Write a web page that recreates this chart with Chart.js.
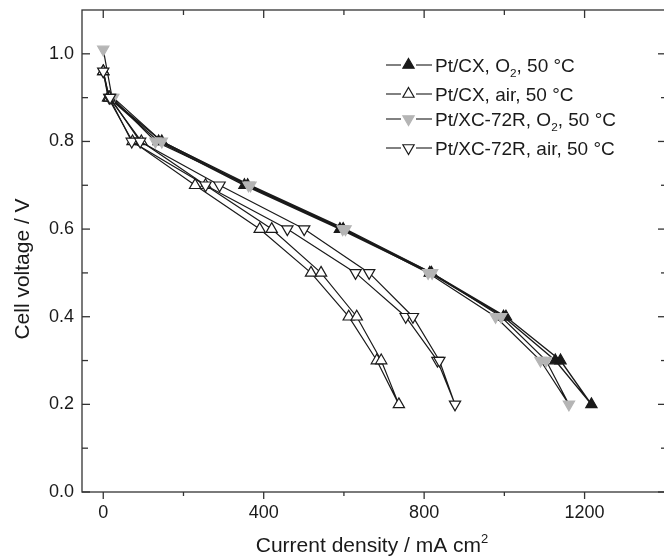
<!DOCTYPE html>
<html>
<head>
<meta charset="utf-8">
<script src="https://cdn.jsdelivr.net/npm/chart.js@4.4.0/dist/chart.umd.min.js"></script>
<style>
    html, body { margin: 0; padding: 0; background: #fff; }
    #chart { display: block; }
</style>
</head>
<body>
<canvas id="chart" width="664" height="556"></canvas>
<script>
// polarisation curves: sweep down to 0.2 V, then back up
const voltageSweep = [0.96, 0.9, 0.8, 0.7, 0.6, 0.5, 0.4, 0.3, 0.2, 0.3, 0.4, 0.5, 0.6, 0.7, 0.8, 0.9];
const voltageXcO2 = [1.01, 0.9, 0.8, 0.7, 0.6, 0.5, 0.4, 0.3, 0.2, 0.3, 0.4, 0.5, 0.6, 0.7, 0.8, 0.9];

const currentCxO2 = [0, 14, 138, 352, 590, 814, 998, 1127, 1217, 1140, 1004, 818, 598, 360, 146, 16];
const currentCxAir = [0, 12, 73, 229, 390, 518, 612, 682, 737, 693, 632, 543, 420, 255, 95, 15];
const currentXcO2 = [0, 22, 130, 362, 597, 810, 978, 1090, 1161, 1104, 992, 820, 604, 367, 146, 25];
const currentXcAir = [0, 15, 71, 255, 459, 629, 754, 833, 877, 838, 772, 663, 501, 290, 92, 17];

const seriesNames = [
    'Pt/CX, O_2, 50 °C',
    'Pt/CX, air, 50 °C',
    'Pt/XC-72R, O_2, 50 °C',
    'Pt/XC-72R, air, 50 °C'
];

const xTicksMajor = [0, 400, 800, 1200];
const xTicksMinor = [200, 600, 1000];
const yTicksMajor = [0, 0.2, 0.4, 0.6, 0.8, 1.0];
const yTicksMinor = [0.1, 0.3, 0.5, 0.7, 0.9];

const FONT = "'Liberation Sans', Arial, Helvetica, sans-serif";
const INK = '#1a1a1a';
const GREY = '#b5b5b5';

function toPoints(xs, ys){
    return xs.map((x, i) => ({ x: x, y: ys[i] }));
}

function series(name, xs, ys, style){
    return Object.assign({
        label: name,
        data: toPoints(xs, ys),
        showLine: true,
        tension: 0,
        borderColor: INK,
        borderWidth: 1.2,
        pointStyle: 'triangle',
        pointRadius: 6.5,
        pointHoverRadius: 6.5,
        pointBorderWidth: 1.2
    }, style);
}

const datasets = [
    series(seriesNames[0], currentCxO2, voltageSweep, {
        borderWidth: 1.4, pointRotation: 0,
        pointBackgroundColor: INK, pointBorderColor: INK, order: 3
    }),
    series(seriesNames[1], currentCxAir, voltageSweep, {
        pointRotation: 0,
        pointBackgroundColor: '#fff', pointBorderColor: INK, order: 1
    }),
    series(seriesNames[2], currentXcO2, voltageXcO2, {
        pointRotation: 180,
        pointBackgroundColor: GREY, pointBorderColor: GREY, order: 2
    }),
    series(seriesNames[3], currentXcAir, voltageSweep, {
        pointRotation: 180,
        pointBackgroundColor: '#fff', pointBorderColor: INK, order: 0
    })
];

// text with _x subscripts and ^x superscripts
function richParts(text){
    return text.split(/([_^].)/).filter(s => s.length).map(s => {
        if(s[0] === '_') return { t: s[1], shift: 5, scale: 0.62 };
        if(s[0] === '^') return { t: s[1], shift: -9, scale: 0.62 };
        return { t: s, shift: 0, scale: 1 };
    });
}

function richWidth(ctx, text, size){
    let w = 0;
    richParts(text).forEach(p => {
        ctx.font = (size * p.scale) + 'px ' + FONT;
        w += ctx.measureText(p.t).width;
    });
    return w;
}

function drawRich(ctx, text, x, y, size){
    richParts(text).forEach(p => {
        ctx.font = (size * p.scale) + 'px ' + FONT;
        ctx.fillText(p.t, x, y + p.shift);
        x += ctx.measureText(p.t).width;
    });
}

const framePlugin = {
    id: 'frame',
    afterDraw(chart){
        const ctx = chart.ctx;
        const a = chart.chartArea;
        const xs = chart.scales.x;
        const ys = chart.scales.y;

        ctx.save();
        ctx.strokeStyle = '#333';
        ctx.lineWidth = 1.3;
        ctx.strokeRect(a.left, a.top, a.right - a.left + 1, a.bottom - a.top);

        const tick = (x1, y1, x2, y2) => {
            ctx.beginPath();
            ctx.moveTo(x1, y1);
            ctx.lineTo(x2, y2);
            ctx.stroke();
        };

        xTicksMajor.forEach(v => {
            const p = xs.getPixelForValue(v);
            tick(p, a.bottom, p, a.bottom + 7);
            tick(p, a.top, p, a.top + 8);
        });
        xTicksMinor.forEach(v => {
            const p = xs.getPixelForValue(v);
            tick(p, a.bottom, p, a.bottom + 4);
            tick(p, a.top, p, a.top + 5);
        });
        yTicksMajor.forEach(v => {
            const p = ys.getPixelForValue(v);
            tick(a.left, p, a.left + 8, p);
            tick(a.right, p, a.right - 6, p);
        });
        yTicksMinor.forEach(v => {
            const p = ys.getPixelForValue(v);
            tick(a.left, p, a.left + 6, p);
            tick(a.right, p, a.right - 3, p);
        });

        // axis titles
        ctx.fillStyle = INK;
        ctx.textBaseline = 'alphabetic';
        ctx.textAlign = 'left';
        const xTitle = 'Current density / mA cm^2';
        drawRich(ctx, xTitle, 372 - richWidth(ctx, xTitle, 21) / 2, 552, 21);

        ctx.save();
        ctx.translate(29, 269);
        ctx.rotate(-Math.PI / 2);
        ctx.font = '21px ' + FONT;
        ctx.textAlign = 'center';
        ctx.fillText('Cell voltage / V', 0, 0);
        ctx.restore();

        // legend: line - marker - line, then label
        const rows = [65, 94, 119, 148];
        chart.data.datasets.forEach((ds, i) => {
            const y = rows[i];
            ctx.strokeStyle = INK;
            ctx.lineWidth = 1.1;
            tick(386, y, 401, y);
            tick(416, y, 432, y);
            ctx.fillStyle = ds.pointBackgroundColor;
            ctx.strokeStyle = ds.pointBorderColor;
            ctx.lineWidth = ds.pointBorderWidth;
            Chart.helpers.drawPoint(ctx, {
                pointStyle: 'triangle',
                rotation: ds.pointRotation,
                radius: 6.5,
                borderWidth: ds.pointBorderWidth
            }, 408.5, y);
            ctx.fillStyle = INK;
            ctx.textAlign = 'left';
            drawRich(ctx, ds.label, 435, y + 7, 19);
        });
        ctx.restore();
    }
};

const tickFont = { family: FONT, size: 18 };

new Chart(document.getElementById('chart'), {
    type: 'scatter',
    data: { datasets: datasets },
    options: {
        responsive: false,
        animation: false,
        devicePixelRatio: 1,
        layout: {
            autoPadding: false,
            padding: { top: 10, right: 0, left: 0, bottom: 0 }
        },
        plugins: {
            legend: { display: false },
            tooltip: { enabled: false }
        },
        scales: {
            x: {
                type: 'linear',
                min: -53,
                max: 1398,
                grid: { display: false, drawTicks: false },
                border: { display: false },
                afterBuildTicks: (s) => { s.ticks = xTicksMajor.map(v => ({ value: v })); },
                afterFit: (s) => {
                    s.height = 64;
                    s.paddingLeft = 0;
                    s.paddingRight = 0;
                },
                ticks: {
                    padding: 10,
                    font: tickFont,
                    color: INK,
                    maxRotation: 0,
                    autoSkip: false,
                    callback: (v) => String(v)
                }
            },
            y: {
                type: 'linear',
                min: 0,
                max: 1.1,
                grid: { display: false, drawTicks: false },
                border: { display: false },
                afterBuildTicks: (s) => { s.ticks = yTicksMajor.map(v => ({ value: v })); },
                afterFit: (s) => {
                    s.width = 82;
                    s.paddingTop = 0;
                    s.paddingBottom = 0;
                },
                ticks: {
                    padding: 8,
                    font: tickFont,
                    color: INK,
                    autoSkip: false,
                    callback: (v) => Number(v).toFixed(1)
                }
            }
        }
    },
    plugins: [framePlugin]
});
</script>
</body>
</html>
